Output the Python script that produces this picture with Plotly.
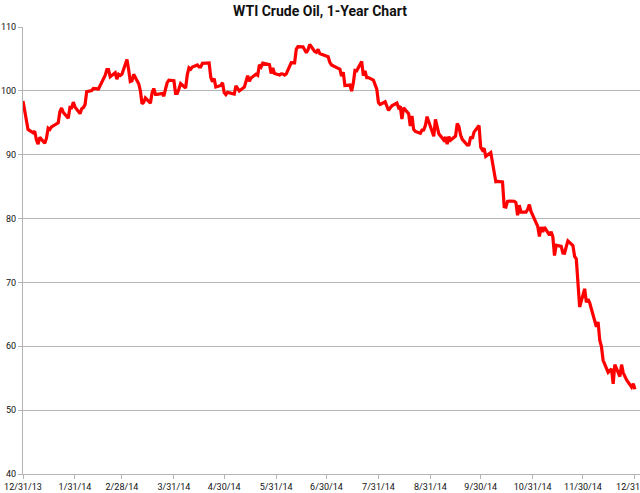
import pandas as pd
import plotly.graph_objects as go

# WTI crude, daily closes, 12/31/13 - 12/31/14
start_date = "2013-12-31"
start_price = 98.42

holidays = ["2014-01-01", "2014-01-20", "2014-02-17", "2014-04-18", "2014-05-26",
            "2014-07-04", "2014-09-01", "2014-11-27", "2014-12-25"]

jan = [95.44, 93.96, 93.43, 93.67, 92.33, 91.66, 92.72, 91.80, 92.59, 94.17, 93.96,
       94.37, 94.99, 96.73, 97.32, 96.64, 95.72, 97.41, 97.36, 98.23, 97.49]
feb = [96.43, 97.19, 97.38, 97.84, 99.88, 100.06, 100.37, 100.35, 100.35, 100.30,
       102.43, 103.31, 103.31, 102.20, 102.82, 101.83, 102.59, 102.40, 102.59]
mar = [104.92, 103.33, 101.45, 101.56, 102.58, 101.12, 100.03, 97.99, 98.20, 98.89,
       98.08, 99.70, 100.37, 99.46, 99.46, 99.60, 99.19, 100.26, 101.28, 101.67, 101.58]
apr = [99.62, 99.62, 100.29, 101.14, 100.44, 102.56, 103.60, 103.40, 103.74, 104.05,
       103.75, 103.76, 104.30, 104.38, 102.13, 101.44, 101.94, 100.60, 100.84, 101.28, 99.74]
may = [99.42, 99.76, 99.48, 99.50, 100.77, 100.26, 99.99, 100.59, 101.70, 102.37,
       101.50, 102.02, 102.61, 102.44, 104.07, 103.75, 104.35, 104.11, 102.72, 103.58, 102.71]
jun = [102.47, 102.66, 102.64, 102.48, 102.66, 104.41, 104.35, 104.40, 106.53, 106.91,
       106.90, 106.36, 105.97, 106.43, 107.26, 106.17, 106.03, 106.50, 105.84, 105.74, 105.37]
jul = [105.34, 104.48, 104.06, 103.53, 103.40, 102.29, 102.93, 100.83, 100.91, 99.96,
       101.20, 103.19, 103.13, 104.59, 102.39, 103.12, 102.07, 102.09, 101.67, 100.97,
       100.27, 98.17]
aug = [97.88, 98.29, 97.38, 96.92, 97.34, 97.65, 98.08, 97.37, 97.59, 95.58, 97.35,
       96.41, 94.48, 96.07, 93.96, 93.65, 93.35, 93.86, 93.88, 94.55, 95.96]
sep = [92.88, 95.54, 94.45, 93.29, 92.29, 92.75, 91.67, 92.83, 92.27, 92.92, 94.88,
       94.42, 93.07, 92.41, 91.52, 91.56, 92.80, 92.53, 93.54, 94.57, 91.16]
oct = [90.73, 91.01, 89.74, 90.34, 88.85, 87.31, 85.77, 85.82, 85.74, 81.84, 81.78,
       82.70, 82.75, 82.71, 82.49, 80.52, 82.09, 81.01, 81.00, 81.42, 82.20, 81.12, 80.54]
nov = [78.78, 77.19, 78.68, 77.91, 78.65, 77.40, 77.94, 77.18, 74.21, 75.82, 75.64,
       74.61, 74.58, 75.58, 76.51, 75.78, 74.09, 73.69, 66.15]
dec = [69.00, 66.88, 67.38, 66.81, 65.84, 63.05, 63.82, 60.94, 59.95, 57.81, 55.93,
       56.26, 56.47, 54.11, 57.13, 55.26, 57.12, 55.84, 54.73, 53.61, 54.12, 53.27]

tick_dates = ["2013-12-31", "2014-01-31", "2014-02-28", "2014-03-31", "2014-04-30",
              "2014-05-31", "2014-06-30", "2014-07-31", "2014-08-31", "2014-09-30",
              "2014-10-31", "2014-11-30", "2014-12-31"]
tick_labels = ["12/31/13", "1/31/14", "2/28/14", "3/31/14", "4/30/14", "5/31/14",
               "6/30/14", "7/31/14", "8/31/14", "9/30/14", "10/31/14", "11/30/14", "12/31/14"]

# trading days of 2014
days = pd.bdate_range("2014-01-02", "2014-12-31")
days = days[~days.isin(pd.to_datetime(holidays))]
prices = jan + feb + mar + apr + may + jun + jul + aug + sep + oct + nov + dec

df = pd.DataFrame({"date": [pd.Timestamp(start_date)] + list(days),
                   "price": [start_price] + prices})

FONT = "Roboto, sans-serif"
GRAY = "#b4b4b4"

fig = go.Figure()
fig.add_trace(go.Scatter(x=df["date"], y=df["price"], mode="lines",
                         line=dict(color="#ff0000", width=3.2), showlegend=False))

fig.update_layout(
    width=640, height=493,
    margin=dict(l=23, r=0, t=27, b=19),
    paper_bgcolor="white", plot_bgcolor="white",
    title=dict(text="WTI Crude Oil, 1-Year Chart", x=0.5, xanchor="center",
               y=1 - 11 / 493, yanchor="middle",
               font=dict(family=FONT, size=14, color="#111111", weight="bold")),
    font=dict(family=FONT, size=9, color="#111111"),
)
fig.update_xaxes(type="date", range=["2013-12-31", "2015-01-03"],
                 tickvals=tick_dates, ticktext=tick_labels,
                 ticks="outside", ticklen=4, tickcolor=GRAY,
                 showgrid=False, showline=True, linecolor=GRAY, linewidth=1,
                 ticklabeloverflow="allow", automargin=False)
fig.update_yaxes(range=[40, 110], dtick=10, showgrid=True, gridcolor=GRAY, gridwidth=1,
                 showline=True, linecolor=GRAY, linewidth=1, zeroline=False,
                 ticks="outside", ticklen=4, tickcolor=GRAY, automargin=False)

# page body has an 8px default margin; drop it so the chart fills the window
fig.write_html("out.html", config={"displayModeBar": False},
               post_script="document.body.style.margin='0';")
